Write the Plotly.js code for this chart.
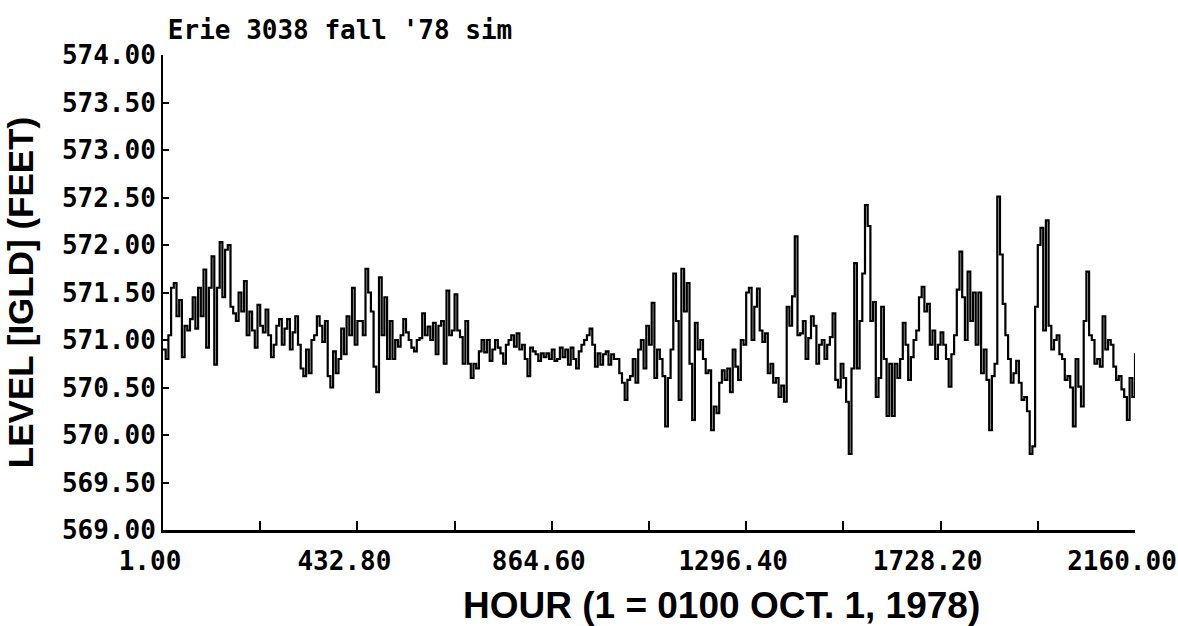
<!DOCTYPE html>
<html>
<head>
<meta charset="utf-8">
<script src="https://cdn.plot.ly/plotly-3.0.1.min.js"></script>
<style>html,body{margin:0;padding:0;background:#fff;}#chart{width:1178px;height:626px;}</style>
</head>
<body>
<div id="chart"></div>
<script>
// Simulated Lake Erie water level, gauge 3038, fall 1978 (~6-hour spacing)
const levelHours1to432 = [
570.90, 570.80, 571.05, 571.55, 571.60, 571.25, 571.42, 570.82, 571.15, 571.10,
571.22, 571.45, 571.12, 571.55, 571.25, 571.74, 570.92, 571.55, 571.88, 570.74,
571.55, 572.03, 571.45, 571.95, 572.00, 571.35, 571.28, 571.20, 571.50, 571.30,
571.62, 571.05, 571.30, 571.10, 570.92, 571.37, 571.15, 571.08, 571.32, 571.05,
570.82, 570.95, 571.15, 571.22, 570.95, 571.12, 571.22, 570.90, 571.08, 571.25,
570.95, 570.70, 570.62, 570.90, 570.65, 571.00, 571.05, 571.25, 571.15, 570.98,
571.20, 570.62, 570.50, 570.88, 570.65, 570.80, 571.12, 570.85, 571.25, 571.05,
571.55, 570.95, 571.20
];
const levelHours433to870 = [
571.20, 571.05, 571.75, 571.50, 571.30, 570.72, 570.45, 571.66, 571.05, 571.45,
570.80, 571.20, 570.80, 571.00, 570.93, 571.05, 571.22, 571.08, 571.00, 570.92,
570.88, 571.00, 571.02, 571.28, 571.05, 571.14, 571.00, 571.18, 570.85, 571.15,
571.20, 570.75, 571.52, 571.05, 571.10, 571.48, 571.10, 571.03, 570.75, 571.20,
570.75, 570.60, 570.75, 570.70, 570.88, 571.00, 570.87, 571.00, 570.78, 570.90,
571.00, 570.92, 570.86, 570.75, 570.95, 571.00, 571.05, 570.93, 571.07, 570.90,
570.95, 570.80, 570.62, 570.92, 570.88, 570.85, 570.78, 570.86, 570.82, 570.86,
570.80, 570.90, 570.78
];
const levelHours876to1302 = [
570.80, 570.92, 570.82, 570.90, 570.74, 570.92, 570.80, 570.70, 570.88, 570.95,
571.00, 571.05, 571.12, 570.95, 570.72, 570.86, 570.74, 570.85, 570.88, 570.74,
570.85, 570.80, 570.80, 570.65, 570.55, 570.37, 570.58, 570.62, 570.80, 570.55,
570.90, 571.00, 570.70, 571.15, 570.95, 571.39, 570.60, 570.90, 570.80, 570.62,
570.09, 570.60, 570.90, 571.70, 571.20, 570.37, 571.75, 571.30, 571.60, 570.75,
570.16, 571.18, 570.90, 571.00, 570.80, 570.65, 570.68, 570.05, 570.30, 570.23,
570.55, 570.68, 570.58, 570.70, 570.45, 570.90, 570.72, 570.58, 571.00, 570.95,
571.50, 571.55
];
const levelHours1308to1734 = [
571.00, 571.35, 571.54, 571.10, 570.98, 571.07, 570.65, 570.75, 570.55, 570.60,
570.40, 570.52, 570.35, 571.35, 571.15, 571.46, 572.09, 571.05, 571.07, 571.20,
570.80, 571.02, 571.25, 571.15, 570.75, 570.95, 571.00, 570.80, 570.95, 571.03,
571.28, 570.58, 570.50, 570.75, 570.60, 570.35, 569.80, 570.70, 571.81, 570.70,
571.20, 571.70, 572.42, 572.20, 571.20, 571.40, 570.40, 570.60, 571.35, 570.80,
570.20, 570.75, 570.20, 570.75, 570.60, 570.80, 571.18, 570.95, 570.58, 570.82,
571.00, 571.10, 571.45, 571.56, 571.30, 571.38, 570.95, 571.10, 570.80, 570.95,
571.08, 570.95
];
const levelHours1740to2160 = [
570.80, 570.51, 570.85, 571.05, 571.53, 571.93, 571.45, 571.00, 571.72, 571.20,
571.50, 570.95, 571.50, 570.65, 570.90, 570.58, 570.05, 570.62, 570.75, 572.51,
571.90, 571.38, 571.05, 570.80, 570.55, 570.65, 570.78, 570.55, 570.37, 570.40,
570.25, 569.80, 569.88, 571.35, 572.00, 572.18, 571.10, 572.26, 571.15, 570.90,
571.00, 571.05, 570.85, 570.80, 570.58, 570.62, 570.50, 570.09, 570.80, 570.51,
570.30, 571.20, 571.72, 571.05, 571.00, 570.75, 570.80, 570.72, 571.25, 570.90,
571.00, 570.95, 570.72, 570.58, 570.62, 570.48, 570.40, 570.16, 570.60, 570.40,
570.86
];

const firstHour = 1;
const lastHour = 2160;
const xTickVals = [1, 216.9, 432.8, 648.7, 864.6, 1080.5, 1296.4, 1512.3, 1728.2, 1944.1, 2160];
const xTickText = ['1.00', '', '432.80', '', '864.60', '', '1296.40', '', '1728.20', '', '2160.00'];
const yTickVals = [569.0, 569.5, 570.0, 570.5, 571.0, 571.5, 572.0, 572.5, 573.0, 573.5, 574.0];

const level = [].concat(levelHours1to432, levelHours433to870, levelHours876to1302,
                        levelHours1308to1734, levelHours1740to2160);
const n = level.length;
const hours = level.map((_, i) => firstHour + i * (lastHour - firstHour) / (n - 1));

const monoFont = {family: 'DejaVu Sans Mono, monospace', size: 26, color: '#000', weight: 700};
const sansFont = {family: 'Liberation Sans, Arial, sans-serif', color: '#000', weight: 700};

const trace = {
  x: hours, y: level, type: 'scatter', mode: 'lines',
  line: {color: '#000', width: 2.2, shape: 'hv'},
  hoverinfo: 'x+y'
};

const layout = {
  width: 1178, height: 626,
  margin: {l: 163, r: 43, t: 55, b: 96, pad: 0},
  paper_bgcolor: '#fff', plot_bgcolor: '#fff',
  showlegend: false,
  title: {
    text: "Erie 3038 fall '78 sim",
    font: monoFont,
    xref: 'paper', x: 0.005, xanchor: 'left',
    yref: 'container', y: 0.952, yanchor: 'middle'
  },
  xaxis: {
    range: [firstHour, lastHour],
    tickmode: 'array', tickvals: xTickVals, ticktext: xTickText,
    ticks: 'inside', ticklen: 9, tickwidth: 2, tickcolor: '#000',
    showline: true, linewidth: 3, linecolor: '#000',
    showgrid: false, zeroline: false,
    tickfont: monoFont,
    ticklabelshift: -13,
    ticklabelstandoff: 6
  },
  yaxis: {
    range: [569, 574],
    tickmode: 'array', tickvals: yTickVals, tickformat: '.2f',
    ticks: 'inside', ticklen: 6, tickwidth: 2, tickcolor: '#000',
    showline: true, linewidth: 2, linecolor: '#000',
    showgrid: false, zeroline: false,
    tickfont: monoFont,
    title: {text: 'LEVEL [IGLD] (FEET)', font: Object.assign({size: 35}, sansFont), standoff: 18}
  },
  annotations: [{
    text: 'HOUR (1 = 0100 OCT. 1, 1978)',
    xref: 'paper', yref: 'paper', x: 0.575, y: -0.158,
    xanchor: 'center', yanchor: 'middle', showarrow: false,
    font: Object.assign({size: 37}, sansFont)
  }]
};

Plotly.newPlot('chart', [trace], layout, {displayModeBar: false, staticPlot: true});
</script>
</body>
</html>
